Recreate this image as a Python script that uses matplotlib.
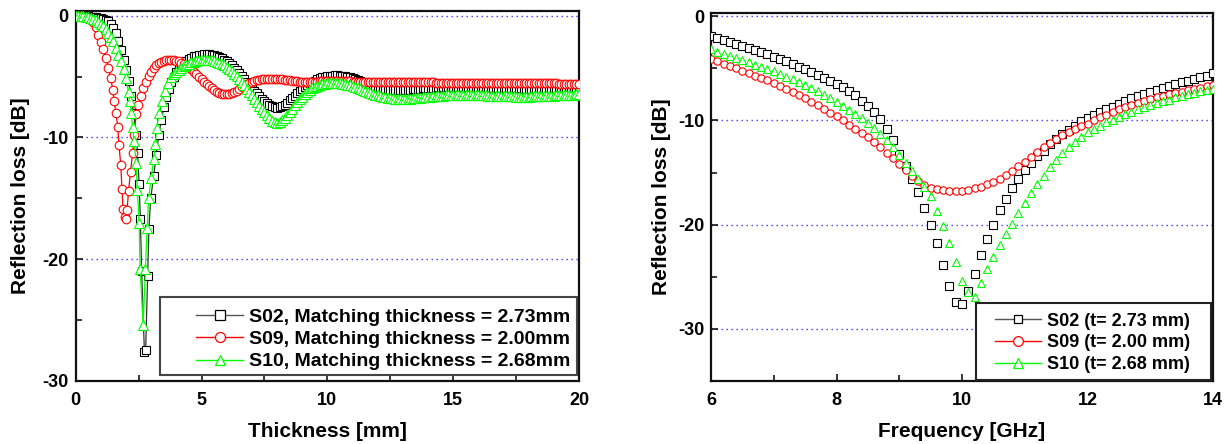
import numpy as np
import matplotlib
matplotlib.use("Agg")
import matplotlib.pyplot as plt
from matplotlib.lines import Line2D
from matplotlib.patches import Rectangle
from matplotlib.ticker import MultipleLocator

plt.rcParams['font.family'] = ['Liberation Sans', 'DejaVu Sans']
plt.rcParams['font.weight'] = 'bold'
plt.rcParams['axes.unicode_minus'] = False


def grid_tail(a, b):
    n = int(round((b - a) / 0.1))
    return [round(a + 0.1 * i, 2) for i in range(n + 1)]


# ---------------- Left panel: RL vs thickness ----------------
t_s02 = grid_tail(0.0, 2.4) + [2.46, 2.52, 2.57, 2.62, 2.73, 2.78, 2.86, 2.91, 2.98] + grid_tail(3.1, 20.0)
rl_s02 = [0.0, 0.0, -0.01, -0.02, -0.03, -0.05, -0.07, -0.09, -0.12, -0.15,
          -0.19, -0.24, -0.31, -0.45, -0.66, -0.98, -1.45, -2.05, -2.8, -3.65,
          -4.45, -5.35, -6.6, -8.0, -9.8,
          -11.3, -13.8, -16.7, -21.0, -27.6, -27.5, -21.4, -17.5, -15.0,
          -13.2, -11.4, -9.8, -8.6, -7.5, -6.7, -6.0, -5.45, -5.0,
          -4.6, -4.3, -4.05, -3.85, -3.68, -3.54, -3.43, -3.34, -3.27, -3.22,
          -3.18, -3.16, -3.16, -3.17, -3.2, -3.24, -3.3, -3.38, -3.48, -3.6,
          -3.74, -3.9, -4.08, -4.27, -4.48, -4.7, -4.93, -5.17, -5.41, -5.66,
          -5.9, -6.14, -6.37, -6.59, -6.8, -6.99, -7.16, -7.3, -7.43, -7.51,
          -7.55, -7.52, -7.43, -7.3, -7.13, -6.95, -6.76, -6.56, -6.37, -6.19,
          -6.01, -5.85, -5.7, -5.56, -5.43, -5.32, -5.22, -5.13, -5.06, -5.0,
          -4.96, -4.93, -4.91, -4.9, -4.9, -4.91, -4.93, -4.96, -5.0, -5.05,
          -5.11, -5.18, -5.26, -5.34, -5.43, -5.52, -5.61, -5.69, -5.77, -5.84,
          -5.9, -5.96, -6.01, -6.05, -6.08, -6.1, -6.12, -6.13, -6.13, -6.13,
          -6.12, -6.11, -6.09, -6.07, -6.05, -6.03, -6.01, -5.99, -5.97, -5.95,
          -5.93, -5.92, -5.91, -5.9, -5.89, -5.88, -5.88, -5.87, -5.87, -5.87,
          -5.87, -5.87, -5.87, -5.87, -5.88, -5.88, -5.89, -5.89, -5.9, -5.9,
          -5.91, -5.91, -5.92, -5.92, -5.93, -5.93, -5.94, -5.94, -5.95, -5.95,
          -5.95, -5.96, -5.96, -5.96, -5.97, -5.97, -5.97, -5.97, -5.98, -5.98,
          -5.98, -5.98, -5.98, -5.99, -5.99, -5.99, -5.99, -5.99, -5.99, -5.99,
          -5.99, -5.99, -6.0, -6.0, -6.0, -6.0, -6.0, -6.0, -6.0, -6.0, -6.0]

t_s09 = grid_tail(0.0, 1.4) + [1.47, 1.53, 1.6, 1.67, 1.72, 1.79, 1.84, 1.88, 1.94, 2.0, 2.04, 2.1,
                              2.18, 2.26, 2.32, 2.4, 2.49, 2.6, 2.69, 2.79, 2.9, 3.0] + grid_tail(3.1, 20.0)
rl_s09 = [0.0, -0.02, -0.05, -0.09, -0.15, -0.23, -0.34, -0.5, -0.95, -1.55,
          -2.15, -2.75, -3.5, -4.3, -5.15,
          -6.1, -7.0, -8.0, -9.1, -10.6, -12.25, -14.2, -15.9, -16.5, -16.7, -16.0, -14.4,
          -12.8, -11.3, -9.8, -8.1, -7.3, -6.6, -5.9, -5.4, -4.95, -4.6,
          -4.32, -4.08, -3.9, -3.77, -3.68, -3.62, -3.6, -3.6, -3.63,
          -3.68, -3.75, -3.84, -3.96, -4.09, -4.24, -4.41, -4.6, -4.8, -5.0,
          -5.2, -5.4, -5.6, -5.78, -5.95, -6.1, -6.22, -6.32, -6.39, -6.43,
          -6.44, -6.41, -6.35, -6.26, -6.14, -6.01, -5.88, -5.75, -5.63, -5.53,
          -5.44, -5.37, -5.31, -5.26, -5.22, -5.19, -5.17, -5.16, -5.16, -5.17,
          -5.18, -5.2, -5.22, -5.25, -5.28, -5.31, -5.34, -5.37, -5.39, -5.41,
          -5.42, -5.43, -5.43, -5.43, -5.42, -5.41, -5.4, -5.39, -5.38, -5.37,
          -5.37, -5.37, -5.37, -5.37, -5.38, -5.38, -5.38, -5.39, -5.39, -5.39,
          -5.4, -5.4, -5.4, -5.41, -5.41, -5.41, -5.42, -5.42, -5.42, -5.42,
          -5.43, -5.43, -5.43, -5.43, -5.44, -5.44, -5.44, -5.44, -5.45, -5.45,
          -5.45, -5.45, -5.45, -5.46, -5.46, -5.46, -5.46, -5.46, -5.47, -5.47,
          -5.47, -5.47, -5.47, -5.48, -5.48, -5.48, -5.48, -5.48, -5.49, -5.49,
          -5.49, -5.49, -5.49, -5.5, -5.5, -5.5, -5.5, -5.5, -5.51, -5.51,
          -5.51, -5.51, -5.51, -5.52, -5.52, -5.52, -5.52, -5.52, -5.53, -5.53,
          -5.53, -5.53, -5.53, -5.54, -5.54, -5.54, -5.54, -5.54, -5.55, -5.55,
          -5.55, -5.55, -5.55, -5.55, -5.55, -5.56, -5.56, -5.56, -5.56, -5.56,
          -5.56, -5.56, -5.57, -5.57, -5.57, -5.57, -5.58, -5.58, -5.58, -5.58, -5.58]

t_s10 = grid_tail(0.0, 2.1) + [2.16, 2.21, 2.26, 2.32, 2.4, 2.45, 2.52, 2.56, 2.68, 2.77, 2.84, 2.9,
                              3.0, 3.1, 3.16, 3.22, 3.31, 3.42, 3.55, 3.68, 3.8] + grid_tail(3.9, 20.0)
rl_s10 = [0.0, 0.0, -0.01, -0.03, -0.06, -0.1, -0.16, -0.24, -0.34, -0.47,
          -0.63, -0.83, -1.07, -1.37, -1.7, -2.1, -2.65, -3.2, -3.75, -4.4,
          -5.15, -6.3,
          -7.0, -8.0, -9.1, -10.3, -12.1, -14.3, -17.0, -20.8, -25.4, -20.8, -17.45, -15.0,
          -13.35, -11.8, -10.5, -9.2, -8.0, -7.0, -6.2, -5.5, -5.05,
          -4.8, -4.6, -4.42, -4.27, -4.14, -4.02, -3.92, -3.83, -3.76, -3.7,
          -3.66, -3.63, -3.62, -3.62, -3.63, -3.66, -3.7, -3.76, -3.84, -3.94,
          -4.06, -4.2, -4.36, -4.54, -4.74, -4.96, -5.2, -5.45, -5.71, -5.98,
          -6.26, -6.54, -6.82, -7.1, -7.38, -7.65, -7.92, -8.18, -8.42, -8.62,
          -8.75, -8.78, -8.72, -8.59, -8.4, -8.17, -7.91, -7.64, -7.37, -7.11,
          -6.87, -6.65, -6.45, -6.27, -6.11, -5.97, -5.85, -5.75, -5.67, -5.61,
          -5.57, -5.54, -5.52, -5.51, -5.51, -5.52, -5.54, -5.57, -5.61, -5.66,
          -5.72, -5.79, -5.86, -5.94, -6.02, -6.1, -6.18, -6.26, -6.34, -6.41,
          -6.48, -6.54, -6.6, -6.65, -6.69, -6.73, -6.76, -6.78, -6.8, -6.81,
          -6.82, -6.82, -6.82, -6.81, -6.8, -6.78, -6.76, -6.74, -6.72, -6.7,
          -6.68, -6.66, -6.64, -6.62, -6.6, -6.58, -6.57, -6.55, -6.54, -6.53,
          -6.52, -6.51, -6.5, -6.5, -6.49, -6.49, -6.49, -6.49, -6.49, -6.5,
          -6.5, -6.51, -6.52, -6.53, -6.54, -6.55, -6.56, -6.57, -6.58, -6.59,
          -6.6, -6.61, -6.62, -6.62, -6.63, -6.63, -6.64, -6.64, -6.64, -6.64,
          -6.64, -6.64, -6.63, -6.63, -6.62, -6.61, -6.6, -6.59, -6.58, -6.57,
          -6.56, -6.55, -6.54, -6.53, -6.52, -6.51, -6.5, -6.49, -6.48, -6.47, -6.46,
          -6.45]

labels_left = ["S02, Matching thickness = 2.73mm",
               "S09, Matching thickness = 2.00mm",
               "S10, Matching thickness = 2.68mm"]

# ---------------- Right panel: RL vs frequency ----------------
freq = grid_tail(6.0, 14.0)
rlf_s02 = [-1.9, -2.1, -2.3, -2.5, -2.65, -2.85, -3.05, -3.25, -3.45, -3.65,
           -3.9, -4.1, -4.35, -4.6, -4.85, -5.1, -5.35, -5.6, -5.9, -6.2,
           -6.5, -6.8, -7.2, -7.6, -8.1, -8.6, -9.2, -9.9, -10.8, -11.9,
           -13.2, -14.4, -15.6, -16.9, -18.4, -20.0, -21.8, -23.85, -25.85, -27.45,
           -27.6, -26.4, -24.7, -22.9, -21.4, -20.0, -18.6, -17.5, -16.5, -15.6,
           -14.8, -14.1, -13.4, -12.9, -12.3, -11.8, -11.3, -10.9, -10.5, -10.1,
           -9.8, -9.5, -9.2, -8.9, -8.7, -8.4, -8.15, -7.9, -7.7, -7.5,
           -7.3, -7.1, -6.9, -6.7, -6.5, -6.35, -6.2, -6.0, -5.85, -5.7, -5.5]
rlf_s09 = [-4.15, -4.35, -4.55, -4.8, -5.0, -5.25, -5.45, -5.7, -5.9, -6.15,
           -6.4, -6.7, -6.95, -7.25, -7.55, -7.9, -8.2, -8.55, -8.9, -9.25,
           -9.6, -10.0, -10.4, -10.8, -11.2, -11.6, -12.1, -12.6, -13.1, -13.65,
           -14.2, -14.8, -15.35, -15.8, -16.2, -16.5, -16.6, -16.7, -16.8, -16.8,
           -16.75, -16.65, -16.5, -16.35, -16.15, -15.9, -15.6, -15.25, -14.85, -14.4,
           -13.95, -13.5, -13.05, -12.6, -12.15, -11.8, -11.45, -11.15, -10.85, -10.55,
           -10.3, -10.0, -9.7, -9.45, -9.2, -8.95, -8.7, -8.5, -8.3, -8.1,
           -7.95, -7.8, -7.65, -7.5, -7.35, -7.25, -7.1, -7.0, -6.85, -6.75, -6.6]
rlf_s10 = [-3.2, -3.4, -3.6, -3.8, -4.0, -4.2, -4.4, -4.65, -4.85, -5.1,
           -5.3, -5.55, -5.8, -6.05, -6.3, -6.6, -6.9, -7.2, -7.55, -7.9,
           -8.25, -8.6, -9.0, -9.4, -9.8, -10.25, -10.75, -11.3, -11.9, -12.6,
           -13.3, -14.1, -14.85, -15.6, -16.4, -17.3, -18.7, -20.1, -21.8, -23.6,
           -25.4, -26.5, -26.9, -25.6, -24.3, -23.1, -22.0, -20.9, -19.9, -18.9,
           -17.9, -17.0, -16.1, -15.3, -14.5, -13.8, -13.15, -12.6, -12.1, -11.6,
           -11.15, -10.85, -10.5, -10.2, -9.95, -9.65, -9.4, -9.2, -8.95, -8.75,
           -8.55, -8.35, -8.15, -8.0, -7.8, -7.65, -7.45, -7.35, -7.2, -7.05, -6.95]
labels_right = ["S02 (t= 2.73 mm)", "S09 (t= 2.00 mm)", "S10 (t= 2.68 mm)"]

# ---------------- styles ----------------
colors = ['#000000', '#FF0000', '#00FF00']
line_colors = ['#333333', '#FF0000', '#00FF00']
markers = ['s', 'o', '^']
msizes_left = [6.0, 6.2, 6.6]
msizes_right = [5.1, 5.3, 5.7]

W, H = 1228, 444
fig = plt.figure(figsize=(W / 100, H / 100), dpi=100)
ax1 = fig.add_axes([75.7 / W, (H - 380.7) / H, 503.3 / W, 369.7 / H])
ax2 = fig.add_axes([711 / W, (H - 381) / H, 502 / W, 368 / H])

left_data = [(t_s02, rl_s02), (t_s09, rl_s09), (t_s10, rl_s10)]
for (t, r), c, lc, m, ms in zip(left_data, colors, line_colors, markers, msizes_left):
    n = min(len(t), len(r))
    ax1.plot(t[:n], r[:n], color=lc, lw=0.9, marker=m, ms=ms, mfc='white', mec=c, mew=0.8, zorder=3)

right_data = [rlf_s02, rlf_s09, rlf_s10]
for r, c, m, ms in zip(right_data, colors, markers, msizes_right):
    n = min(len(freq), len(r))
    ax2.plot(freq[:n], r[:n], linestyle='none', marker=m, ms=ms, mfc='white', mec=c, mew=0.8, zorder=3)

grid_color = '#3a3aff'
for ax, gl in ((ax1, [0, -10, -20]), (ax2, [0, -10, -20, -30])):
    for g in gl:
        ax.axhline(g, color=grid_color, lw=1.0, linestyle=(0, (1.0, 2.6)), zorder=1)

ax1.set_xlim(0, 20)
ax1.set_ylim(-30, 0.4)
ax1.xaxis.set_major_locator(MultipleLocator(5))
ax1.xaxis.set_minor_locator(MultipleLocator(2.5))
ax2.set_xlim(6, 14)
ax2.set_ylim(-35, 0.3)
ax2.xaxis.set_major_locator(MultipleLocator(2))
ax2.xaxis.set_minor_locator(MultipleLocator(1))
for ax in (ax1, ax2):
    ax.yaxis.set_major_locator(MultipleLocator(10))
    ax.yaxis.set_minor_locator(MultipleLocator(5))
    ax.tick_params(which='both', direction='in', top=False, right=False, width=1.1)
    ax.tick_params(which='major', length=5)
    ax.tick_params(which='minor', length=4)
    ax.tick_params(axis='x', which='major', pad=8, labelsize=13)
    ax.tick_params(axis='y', which='major', pad=5, labelsize=13)
    for sp in ax.spines.values():
        sp.set_linewidth(1.6)
        sp.set_color('#111111')
    for lab in ax.get_xticklabels() + ax.get_yticklabels():
        lab.set_fontweight('bold')

ax1.set_xlabel('Thickness [mm]', fontsize=15, fontweight='bold')
ax1.set_ylabel('Reflection loss [dB]', fontsize=15, fontweight='bold')
ax2.set_xlabel('Frequency [GHz]', fontsize=15, fontweight='bold')
ax2.set_ylabel('Reflection loss [dB]', fontsize=15, fontweight='bold')
ax1.xaxis.set_label_coords(0.5, -0.112)
ax2.xaxis.set_label_coords(0.5, -0.112)
ax1.yaxis.set_label_coords(-0.091, 0.5)
ax2.yaxis.set_label_coords(-0.080, 0.5)


def make_handles(sizes):
    return [Line2D([], [], color=lc, lw=1.0, marker=m, ms=ms, mfc='white', mec=c, mew=0.9)
            for c, lc, m, ms in zip(colors, ['#555555', '#FF0000', '#00FF00'], markers, sizes)]


# left legend
ax1.add_patch(Rectangle((0.1675, 0.0154), 0.996 - 0.1675, 0.2264 - 0.0154, transform=ax1.transAxes,
                        facecolor='white', edgecolor='#444444', lw=1.5, zorder=4))
leg1 = ax1.legend(make_handles([6.8, 7.2, 7.8]), labels_left, loc='center left', bbox_to_anchor=(0.239, 0.112),
                  frameon=False, borderpad=0, borderaxespad=0, handlelength=2.42, handletextpad=0.3,
                  labelspacing=0.24, numpoints=1, prop={'size': 14, 'weight': 'bold'})
leg1.set_zorder(5)

# right legend
ax2.add_patch(Rectangle((0.528, 0.002), 0.997 - 0.528, 0.212 - 0.002, transform=ax2.transAxes,
                        facecolor='white', edgecolor='#222222', lw=1.5, zorder=4))
leg2 = ax2.legend(make_handles([6.0, 7.0, 7.6]), labels_right, loc='center left', bbox_to_anchor=(0.5657, 0.104),
                  frameon=False, borderpad=0, borderaxespad=0, handlelength=2.55, handletextpad=0.33,
                  labelspacing=0.26, numpoints=1, prop={'size': 13, 'weight': 'bold'})
leg2.set_zorder(5)

fig.savefig('out.png', dpi=100)
